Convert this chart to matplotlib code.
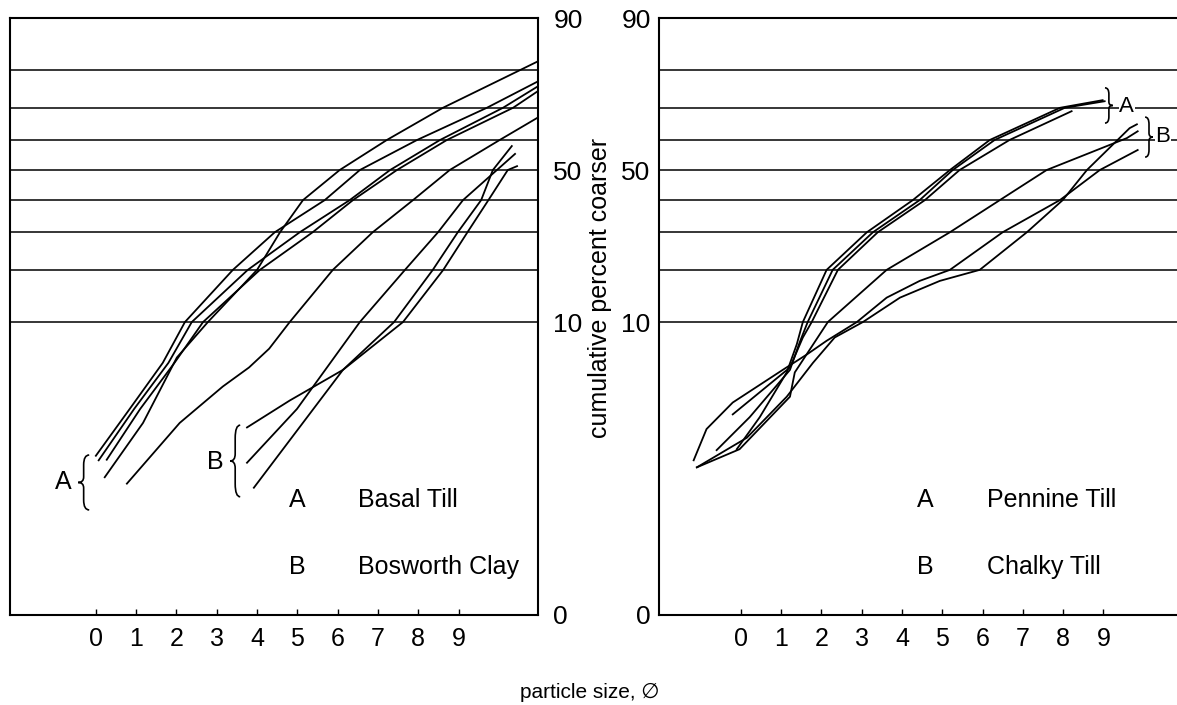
import math
import numpy as np
import matplotlib
matplotlib.use("Agg")
import matplotlib.pyplot as plt
from matplotlib.path import Path
from matplotlib.patches import PathPatch

plt.rcParams['font.family'] = ['Liberation Sans', 'DejaVu Sans']

# ---- data: particle size (phi) vs cumulative percent coarser ----
# left panel, A = Basal Till
basal_phi = [
    [0.00, 0.84, 1.66, 2.21, 3.40, 4.44, 5.68, 6.55, 7.97, 9.70, 10.94],
    [0.07, 0.95, 1.80, 2.38, 3.77, 5.06, 6.30, 7.30, 8.54, 10.10, 10.94],
    [0.27, 1.10, 1.95, 2.66, 4.07, 5.38, 6.38, 7.47, 8.71, 10.35, 10.94],
    [0.22, 1.17, 2.01, 2.78, 4.00, 4.57, 5.14, 6.05, 7.22, 8.61, 10.52, 10.94],
    [0.77, 2.08, 3.15, 3.80, 4.30, 4.81, 5.88, 6.87, 7.87, 8.78, 10.02, 10.94],
]
basal_pct = [
    [0.80, 2.2, 5.2, 10, 20, 30, 40, 50, 60, 70, 77.1],
    [0.72, 2.2, 5.2, 10, 20, 30, 40, 50, 60, 70, 75.8],
    [0.73, 2.2, 5.2, 10, 20, 30, 40, 50, 60, 70, 74.5],
    [0.48, 1.65, 5.7, 10, 20, 30, 40, 50, 60, 70, 80, 81.9],
    [0.41, 1.65, 3.4, 4.8, 6.6, 10, 20, 30, 40, 50, 60, 66.9],
]
# left panel, B = Bosworth Clay
bosworth_phi = [
    [3.75, 4.81, 6.13, 7.62, 8.62, 9.22, 9.74, 10.22, 10.45],
    [3.75, 4.99, 6.55, 7.67, 8.49, 9.11, 9.95, 10.40],
    [3.92, 6.13, 7.40, 8.36, 8.98, 9.56, 9.85, 10.32],
]
bosworth_pct = [
    [1.5, 2.6, 4.6, 10, 20, 30, 40, 50, 51.3],
    [0.68, 2.2, 10, 20, 30, 40, 50, 55.4],
    [0.37, 4.6, 10, 20, 30, 40, 50, 58.0],
]
# right panel, A = Pennine Till
pennine_phi = [
    [-0.10, 0.47, 1.14, 1.39, 1.54, 2.13, 3.13, 4.27, 5.19, 6.18, 7.92, 8.98],
    [-0.60, 0.22, 1.22, 1.46, 1.66, 2.28, 3.28, 4.44, 5.26, 6.30, 8.04, 9.03],
    [-0.20, 0.47, 1.22, 1.54, 1.76, 2.41, 3.40, 4.57, 5.43, 6.67, 8.21],
]
pennine_pct = [
    [0.93, 1.86, 4.4, 7.1, 10, 20, 30, 40, 50, 60, 70, 72.2],
    [0.91, 1.86, 4.6, 7.3, 10, 20, 30, 40, 50, 60, 70, 71.9],
    [1.97, 3.05, 4.8, 7.9, 10, 20, 30, 40, 50, 60, 69.0],
]
# right panel, B = Chalky Till
chalky_phi = [
    [-1.09, -0.03, 1.22, 1.34, 2.16, 3.62, 5.19, 6.43, 7.59, 9.58, 9.85],
    [-1.17, -0.85, -0.20, 1.04, 1.64, 2.13, 2.88, 3.62, 4.44, 5.19, 6.50, 7.92, 8.91, 9.85],
    [-1.09, 0.15, 1.14, 1.79, 2.33, 3.03, 3.95, 4.94, 5.93, 7.10, 7.99, 8.59, 9.65, 9.83],
]
chalky_pct = [
    [0.61, 0.93, 2.8, 4.4, 10, 20, 30, 40, 50, 60.6, 62.8],
    [0.72, 1.45, 2.5, 4.6, 6.0, 7.5, 10, 14.1, 17.5, 20, 30, 40, 50, 56.7],
    [0.61, 1.2, 2.8, 5.2, 7.9, 10, 14.1, 17.5, 20, 30, 40, 50, 63.8, 65.0],
]

phi_ticks = list(range(10))
pct_ticks = [0.0088, 10, 50, 90]
pct_labels = ['0', '10', '50', '90']
grid_pct = [10, 20, 30, 40, 50, 60, 70, 80]


# ---- probability scale ----
_a = [-3.969683028665376e+01, 2.209460984245205e+02, -2.759285104469687e+02,
      1.383577518672690e+02, -3.066479806614716e+01, 2.506628277459239e+00]
_b = [-5.447609879822406e+01, 1.615858368580409e+02, -1.556989798598866e+02,
      6.680131188771972e+01, -1.328068155288572e+01]
_c = [-7.784894002430293e-03, -3.223964580411365e-01, -2.400758277161838e+00,
      -2.549732539343734e+00, 4.374664141464968e+00, 2.938163982698783e+00]
_d = [7.784695709041462e-03, 3.224671290700398e-01, 2.445134137142996e+00,
      3.754408661907416e+00]


def probit(pct):
    p = np.clip(np.asarray(pct, dtype=float) / 100.0, 1e-12, 1 - 1e-12)
    out = np.empty_like(p)
    lo = p < 0.02425
    hi = p > 1 - 0.02425
    mid = ~(lo | hi)
    q = np.sqrt(-2 * np.log(p[lo]))
    out[lo] = (((((_c[0]*q+_c[1])*q+_c[2])*q+_c[3])*q+_c[4])*q+_c[5]) / \
        ((((_d[0]*q+_d[1])*q+_d[2])*q+_d[3])*q+1)
    q = np.sqrt(-2 * np.log(1 - p[hi]))
    out[hi] = -(((((_c[0]*q+_c[1])*q+_c[2])*q+_c[3])*q+_c[4])*q+_c[5]) / \
        ((((_d[0]*q+_d[1])*q+_d[2])*q+_d[3])*q+1)
    q = p[mid] - 0.5
    r = q * q
    out[mid] = (((((_a[0]*r+_a[1])*r+_a[2])*r+_a[3])*r+_a[4])*r+_a[5])*q / \
        (((((_b[0]*r+_b[1])*r+_b[2])*r+_b[3])*r+_b[4])*r+1)
    return out


_erf = np.vectorize(math.erf)


def cdf(z):
    return 50.0 * (1 + _erf(np.asarray(z, dtype=float) / math.sqrt(2)))


def brace(ax, x_end, x_tip, y0, y1):
    # curly brace in axes fraction, tip pointing toward x_tip
    xm = (x_end + x_tip) / 2
    ym = (y0 + y1) / 2
    h = y1 - y0
    verts = [(x_end, y1), (xm, y1), (xm, y1 - 0.18 * h),
             (xm, ym + 0.1 * h), (xm, ym), (x_tip, ym),
             (xm, ym), (xm, ym - 0.1 * h),
             (xm, y0 + 0.18 * h), (xm, y0), (x_end, y0)]
    codes = [Path.MOVETO, Path.CURVE3, Path.CURVE3,
             Path.LINETO, Path.CURVE3, Path.CURVE3,
             Path.CURVE3, Path.CURVE3,
             Path.LINETO, Path.CURVE3, Path.CURVE3]
    ax.add_patch(PathPatch(Path(verts, codes), transform=ax.transAxes,
                           fill=False, lw=1.2, color='black', clip_on=False))


fig = plt.figure(figsize=(11.77, 7.05), dpi=100)
ax1 = fig.add_axes([10/1177, 1 - 615/705, 528/1177, 597/705])
ax2 = fig.add_axes([659/1177, 1 - 615/705, 521/1177, 597/705])

for ax in (ax1, ax2):
    ax.set_yscale('function', functions=(probit, cdf))
    ax.set_ylim(0.0088, 90)
    for g in grid_pct:
        ax.axhline(g, color='black', lw=1.1)
    ax.set_xticks(phi_ticks)
    ax.set_xticklabels([str(t) for t in phi_ticks], fontsize=18)
    ax.tick_params(axis='x', direction='in', length=4, width=1, pad=9)
    ax.set_yticks(pct_ticks)
    ax.set_yticklabels(pct_labels, fontsize=19)
    ax.minorticks_off()
    for s in ax.spines.values():
        s.set_linewidth(1.5)

ax1.set_xlim(-2.13, 10.97)
ax1.yaxis.tick_right()
ax1.tick_params(axis='y', length=0, pad=11)
ax2.set_xlim(-2.03, 10.9)
ax2.tick_params(axis='y', length=0, pad=6)
ax2.spines['right'].set_visible(False)

for xs, ys in zip(basal_phi, basal_pct):
    ax1.plot(xs, ys, color='black', lw=1.3)
for xs, ys in zip(bosworth_phi, bosworth_pct):
    ax1.plot(xs, ys, color='black', lw=1.3)
for xs, ys in zip(pennine_phi, pennine_pct):
    ax2.plot(xs, ys, color='black', lw=1.3)
for xs, ys in zip(chalky_phi, chalky_pct):
    ax2.plot(xs, ys, color='black', lw=1.3)

# left panel annotations
brace(ax1, 0.150, 0.129, 0.176, 0.268)
ax1.text(0.100, 0.223, 'A', transform=ax1.transAxes, fontsize=18,
         ha='center', va='center')
brace(ax1, 0.436, 0.417, 0.198, 0.318)
ax1.text(0.388, 0.256, 'B', transform=ax1.transAxes, fontsize=18,
         ha='center', va='center')
ax1.text(0.544, 0.193, 'A', transform=ax1.transAxes, fontsize=18,
         ha='center', va='center')
ax1.text(0.659, 0.193, 'Basal Till', transform=ax1.transAxes, fontsize=18,
         ha='left', va='center')
ax1.text(0.544, 0.080, 'B', transform=ax1.transAxes, fontsize=18,
         ha='center', va='center')
ax1.text(0.659, 0.080, 'Bosworth Clay', transform=ax1.transAxes, fontsize=18,
         ha='left', va='center')

# right panel annotations
brace(ax2, 0.856, 0.871, 0.824, 0.883)
ax2.text(0.898, 0.851, 'A', transform=ax2.transAxes, fontsize=16,
         ha='center', va='center', bbox=dict(fc='white', ec='none', pad=0.5))
brace(ax2, 0.933, 0.948, 0.767, 0.834)
ax2.text(0.967, 0.801, 'B', transform=ax2.transAxes, fontsize=16,
         ha='center', va='center', bbox=dict(fc='white', ec='none', pad=0.5))
ax2.text(0.511, 0.193, 'A', transform=ax2.transAxes, fontsize=18,
         ha='center', va='center')
ax2.text(0.630, 0.193, 'Pennine Till', transform=ax2.transAxes, fontsize=18,
         ha='left', va='center')
ax2.text(0.511, 0.080, 'B', transform=ax2.transAxes, fontsize=18,
         ha='center', va='center')
ax2.text(0.630, 0.080, 'Chalky Till', transform=ax2.transAxes, fontsize=18,
         ha='left', va='center')

fig.text(600/1177, 1 - 288/705, 'cumulative percent coarser', rotation=90,
         fontsize=18, ha='center', va='center')
fig.text(590/1177, 1 - 692/705, 'particle size, \u2205', fontsize=15,
         ha='center', va='center')

fig.savefig('out.png', dpi=100)
